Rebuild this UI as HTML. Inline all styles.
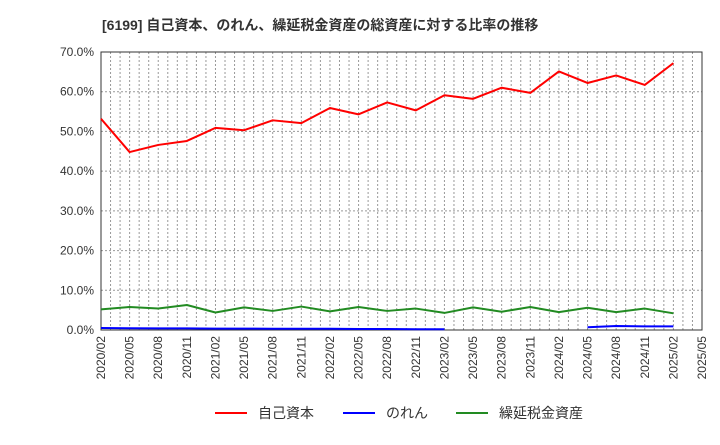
<!DOCTYPE html>
<html><head><meta charset="utf-8"><style>
body{margin:0;background:#fff;font-family:"Liberation Sans","Noto Sans CJK JP",sans-serif}
</style></head><body>
<svg id="c" width="720" height="440" xmlns="http://www.w3.org/2000/svg" font-family="Liberation Sans, Noto Sans CJK JP, sans-serif">
<text x="102" y="30" font-size="14" font-weight="bold" fill="#333">[6199]  自己資本、のれん、繰延税金資産の総資産に対する比率の推移</text>
<g id="grid"></g><g id="axes"></g><g id="series"></g>
<g>
<g><line x1="215" y1="413" x2="247" y2="413" stroke="#f00" stroke-width="2"/><text x="258" y="418" font-size="14" fill="#333">自己資本</text></g>
<g><line x1="343" y1="413" x2="375" y2="413" stroke="#00f" stroke-width="2"/><text x="386" y="418" font-size="14" fill="#333">のれん</text></g>
<g><line x1="456" y1="413" x2="488" y2="413" stroke="#228b22" stroke-width="2"/><text x="499" y="418" font-size="14" fill="#333">繰延税金資産</text></g>
</g>
</svg>
<script>
const xTickLabels=["2020/02","2020/05","2020/08","2020/11","2021/02","2021/05","2021/08","2021/11","2022/02","2022/05","2022/08","2022/11","2023/02","2023/05","2023/08","2023/11","2024/02","2024/05","2024/08","2024/11","2025/02","2025/05"];
const yTicks=[0,10,20,30,40,50,60,70];
const equity=[53.2,44.8,46.6,47.6,50.9,50.3,52.8,52.1,55.9,54.3,57.3,55.3,59.1,58.2,61.0,59.7,65.1,62.2,64.1,61.7,67.2];
const goodwill=[0.5,0.45,0.4,0.4,0.35,0.35,0.3,0.3,0.3,0.25,0.25,0.2,0.2,null,null,null,null,0.7,1.0,0.9,0.9];
const dta=[5.2,5.8,5.4,6.3,4.4,5.7,4.8,5.9,4.7,5.8,4.8,5.4,4.3,5.7,4.6,5.8,4.5,5.6,4.5,5.4,4.2];
const NS="http://www.w3.org/2000/svg";
const L=101,R=702,T=52,B=330;
const xs=i=>L+(R-L)*i/21; const ys=v=>B-(B-T)*v/70;
function mk(p,t,a){const e=document.createElementNS(NS,t);for(const k in a)e.setAttribute(k,a[k]);p.appendChild(e);return e;}
const g=document.getElementById('grid'),ax=document.getElementById('axes'),s=document.getElementById('series');
for(let m=1;m<63;m++){const x=L+(R-L)*m/63;
const l=mk(g,'line',{x1:x,x2:x,y1:T,y2:B,stroke:'#999','stroke-dasharray':'2,2','stroke-width':1});

}
yTicks.forEach(v=>{const y=ys(v);
if(v>0&&v<70){const l=mk(g,'line',{x1:L,x2:R,y1:y,y2:y,stroke:'#999','stroke-dasharray':'2,2'});

}
const t=mk(ax,'text',{x:94,y:y+4,'font-size':12,'text-anchor':'end',fill:'#333'});t.textContent=v.toFixed(1)+'%';

});
const fr=mk(ax,'rect',{x:L,y:T,width:R-L,height:B-T,fill:'none',stroke:'#333','stroke-width':1});


xTickLabels.forEach((lb,i)=>{const x=xs(i);
const t=mk(ax,'text',{x:0,y:0,'font-size':12,'text-anchor':'end',fill:'#333',transform:`translate(${x+4},${B+6}) rotate(-90)`});t.textContent=lb;

});
function line(arr,col,name){let d='',pen=false;arr.forEach((v,i)=>{if(v==null){pen=false;return;}d+=(pen?'L':'M')+xs(i)+','+ys(v)+' ';pen=true;});
const p=mk(s,'path',{d:d,fill:'none',stroke:col,'stroke-width':2,'stroke-linejoin':'round'});

}
line(dta,'#228b22','series-dta');line(goodwill,'#0000ff','series-goodwill');line(equity,'#ff0000','series-equity');
</script>
</body></html>
